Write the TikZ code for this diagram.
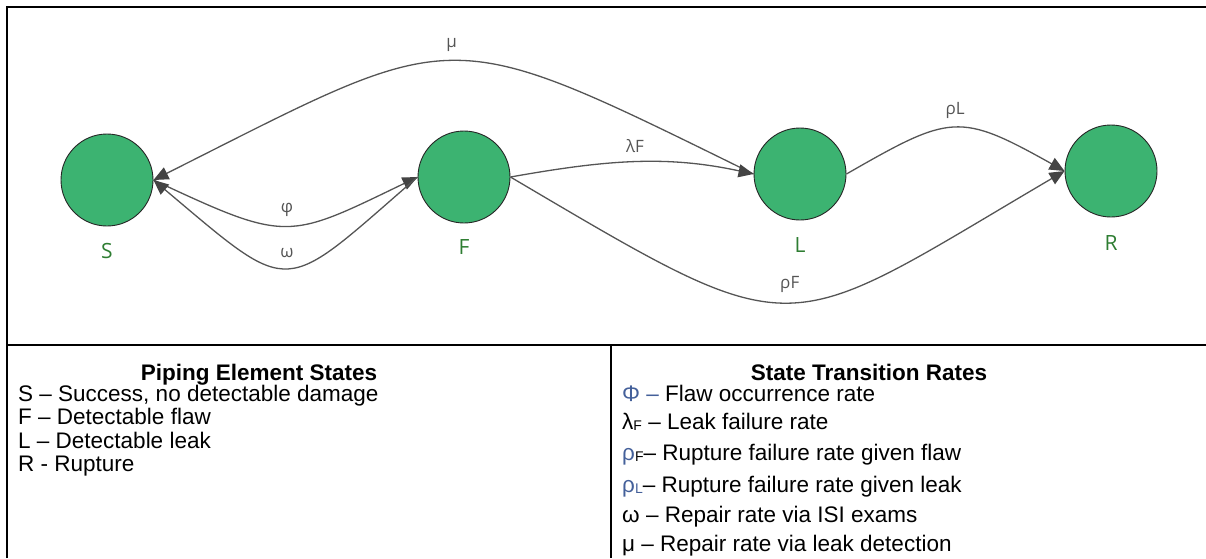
\documentclass[tikz,border=0pt]{standalone}
\usepackage{fontspec}
\setmainfont{Liberation Sans}
\newfontfamily\diagfont{Open Sans}
\usetikzlibrary{arrows.meta}

\definecolor{stategreen}{HTML}{3CB371}
\definecolor{statetext}{HTML}{2E7D32}
\definecolor{rategray}{HTML}{555555}
\definecolor{tipgray}{HTML}{444444}
\definecolor{rateblue}{HTML}{44609A}

% small lowered index letter used in the rate legend
\newcommand{\ratesub}[1]{\raisebox{-1.5pt}{\fontsize{14}{14}\selectfont #1}}

\begin{document}
\begin{tikzpicture}[x=1pt, y=-1pt,
  state/.style={circle, draw=black!85, line width=0.9pt, fill=stategreen, minimum size=92pt, inner sep=0pt},
  statename/.style={text=statetext, font=\diagfont\fontsize{21}{21}\selectfont},
  rate/.style={draw=rategray, line width=1.3pt, -{Triangle[length=15pt, width=13pt, color=tipgray, fill=tipgray]}},
  ratelabel/.style={text=rategray, font=\diagfont\fontsize{17}{17}\selectfont, inner sep=1pt, above=8pt},
  frame/.style={line width=2.4pt},
  legend/.style={anchor=base west, inner sep=0pt, font=\fontsize{22.5}{24}\selectfont},
  legendhead/.style={anchor=base, inner sep=0pt, font=\bfseries\fontsize{22.5}{24}\selectfont}]
\useasboundingbox (0,0) rectangle (1206,558);

% states
\node[state] (S) at (107,180) {};
\node[state] (F) at (464,177) {};
\node[state] (L) at (800,174) {};
\node[state] (R) at (1111,171) {};
\path
(107,251) node[statename] (Sname) {S};
\path
(464,247) node[statename] (Fname) {F};
\path
(800,245) node[statename] (Lname) {L};
\path
(1111,243) node[statename] (Rname) {R};

% transitions
\draw[rate] (L.west) .. controls (440,20) and (462,25) .. (S.east) node[ratelabel, pos=0.5] {μ};
\draw[rate] (S.east) .. controls (288,243) and (287,240) .. (F.west) node[ratelabel, pos=0.5] {φ};
\draw[rate] (F.west) .. controls (280,296) and (295,299) .. (S.east) node[ratelabel, pos=0.5] {ω};
\draw[rate] (F.east) .. controls (606,160) and (666,155) .. (L.west) node[ratelabel, pos=0.5] {λF};
\draw[rate] (F.east) .. controls (804,350) and (777,340) .. (R.west) node[ratelabel, pos=0.5] {ρF};
\draw[rate] (L.east) .. controls (951,114) and (959,112) .. (R.west) node[ratelabel, pos=0.5] {ρL};

% legend table
\draw[frame] (7,558)--(7,7)--(1206,7);
\draw[frame] (7,345)--(1206,345);
\draw[frame] (611,345)--(611,558);

\path
(259,380) node[legendhead] (statehead) {Piping Element States};
\path
(18,401) node[legend] (stateS) {S – Success, no detectable damage};
\path
(18,424) node[legend] (stateF) {F – Detectable flaw};
\path
(18,448) node[legend] (stateL) {L – Detectable leak};
\path
(18,471) node[legend] (stateR) {R - Rupture};

\path
(869,380) node[legendhead] (ratehead) {State Transition Rates};
\path
(622,401) node[legend] (ratephi) {\textcolor{rateblue}{Φ –} Flaw occurrence rate};
\path
(622,429) node[legend] (ratelam) {λ\ratesub{F} – Leak failure rate};
\path
(622,460) node[legend] (raterhoF) {\textcolor{rateblue}{ρ}\ratesub{F}– Rupture failure rate given flaw};
\path
(622,492) node[legend] (raterhoL) {\textcolor{rateblue}{ρ}\ratesub{\textcolor{rateblue}{L}}– Rupture failure rate given leak};
\path
(622,522) node[legend] (rateomega) {ω – Repair rate via ISI exams};
\path
(622,551) node[legend] (ratemu) {μ – Repair rate via leak detection};
\end{tikzpicture}
\end{document}
